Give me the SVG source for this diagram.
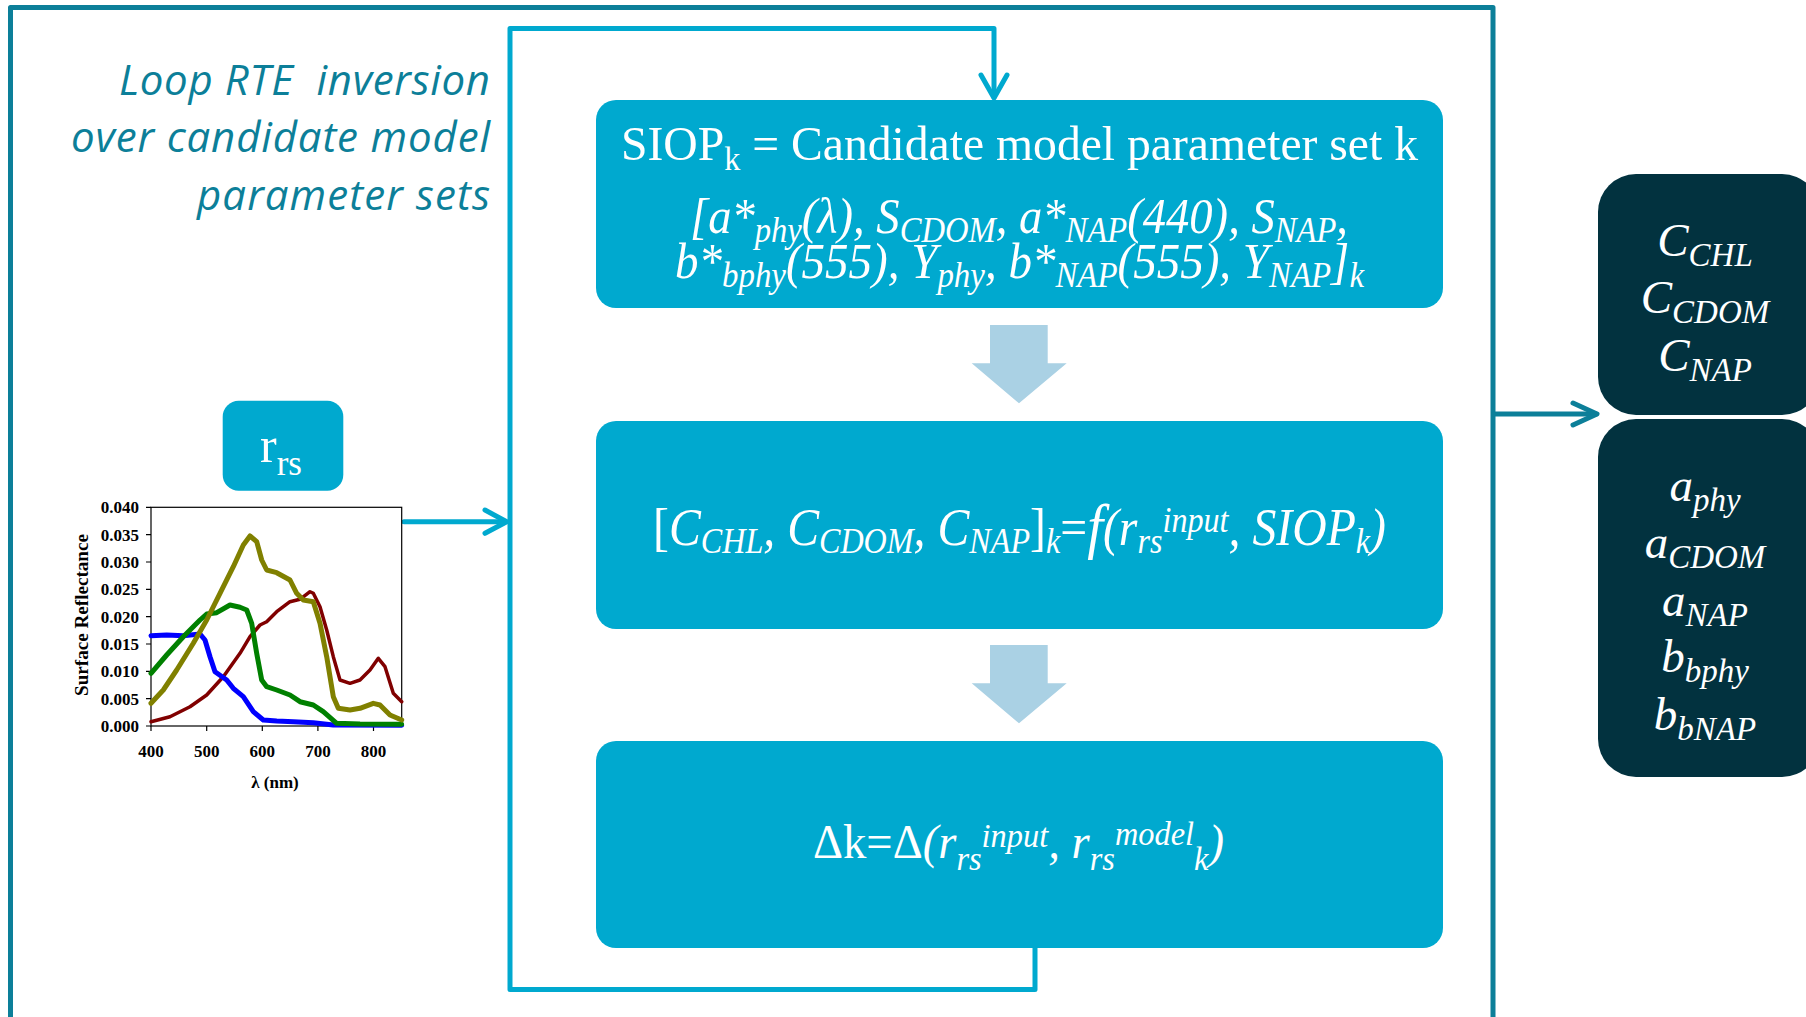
<svg xmlns="http://www.w3.org/2000/svg" width="1806" height="1017" viewBox="0 0 1806 1017">
<style>
.serif{font-family:"Liberation Serif","Times New Roman",serif;}
.it{font-family:"Liberation Serif","Times New Roman",serif;font-style:italic;fill:#fff;}
.up{font-family:"Liberation Serif","Times New Roman",serif;fill:#fff;}
.box{fill:#00a9cf;}
.dark{fill:#02323f;}
.barrow{fill:#aad1e4;}
.loop{fill:none;stroke:#00a9cf;stroke-width:5;stroke-linecap:round;stroke-linejoin:round;}
.frame{fill:none;stroke:#0c7f99;stroke-width:5;stroke-linejoin:round;}
.farrow{fill:none;stroke:#0c7f99;stroke-width:5;stroke-linecap:round;stroke-linejoin:round;}
.tick{font-family:"Liberation Serif","Times New Roman",serif;font-weight:bold;font-size:17px;fill:#000;}
.curve{fill:none;stroke-linecap:round;stroke-linejoin:round;}
.note{font-family:"Open Sans","Noto Sans",sans-serif;font-style:italic;font-size:42px;fill:#0c7f99;}
</style>

<rect id="outer-frame" class="frame" x="10.5" y="7.5" width="1482.5" height="1030"/>

<g id="loop-label">
<text class="note" x="490" y="95" text-anchor="end" textLength="371" xml:space="preserve">Loop RTE  inversion</text>
<text class="note" x="490" y="152" text-anchor="end" textLength="419">over candidate model</text>
<text class="note" x="490" y="210" text-anchor="end" textLength="293">parameter sets</text>
</g>

<g id="connectors">
<path class="loop" d="M1035 948 V989.5 H510 V28.5 H994 V97"/>
<path class="loop" d="M981 75 L994 98 L1007 75"/>
<path class="loop" d="M404 521.7 H505"/>
<path class="loop" d="M485 510 L506.7 521.7 L485 533.3"/>
<path class="farrow" d="M1494 414 H1596"/>
<path class="farrow" d="M1573 403 L1597 414 L1573 425"/>
<polygon class="barrow" points="990,325 1047.7,325 1047.7,363.3 1066.7,363.3 1019,403.3 971.7,363.3 990,363.3"/>
<polygon class="barrow" points="990,645 1047.7,645 1047.7,683.3 1066.7,683.3 1019,723.3 971.7,683.3 990,683.3"/>
</g>

<g id="node-siop">
<rect class="box" x="596" y="100" width="847" height="208" rx="20"/>
<text class="up" x="1019.5" y="160" font-size="49" text-anchor="middle" textLength="797" lengthAdjust="spacingAndGlyphs">SIOP<tspan font-size="33" dy="10">k</tspan><tspan dy="-10"> = Candidate model parameter set k</tspan></text>
<text class="it" x="1019" y="233" font-size="50" text-anchor="middle" textLength="658" lengthAdjust="spacingAndGlyphs">[a*<tspan font-size="35" dy="9">phy</tspan><tspan dy="-9">(λ), S</tspan><tspan font-size="35" dy="9">CDOM</tspan><tspan dy="-9">, a*</tspan><tspan font-size="35" dy="9">NAP</tspan><tspan dy="-9">(440), S</tspan><tspan font-size="35" dy="9">NAP</tspan><tspan dy="-9">,</tspan></text>
<text class="it" x="1019.5" y="278" font-size="50" text-anchor="middle" textLength="689" lengthAdjust="spacingAndGlyphs">b*<tspan font-size="35" dy="9">bphy</tspan><tspan dy="-9">(555), Y</tspan><tspan font-size="35" dy="9">phy</tspan><tspan dy="-9">, b*</tspan><tspan font-size="35" dy="9">NAP</tspan><tspan dy="-9">(555), Y</tspan><tspan font-size="35" dy="9">NAP</tspan><tspan dy="-9">]</tspan><tspan font-size="35" dy="9">k</tspan></text>
</g>

<g id="node-forward">
<rect class="box" x="596" y="421" width="847" height="208" rx="20"/>
<text class="it" x="1019.5" y="545" font-size="52" text-anchor="middle" textLength="733" lengthAdjust="spacingAndGlyphs"><tspan font-style="normal">[</tspan>C<tspan font-size="35" dy="8">CHL</tspan><tspan dy="-8">, C</tspan><tspan font-size="35" dy="8">CDOM</tspan><tspan dy="-8">, C</tspan><tspan font-size="35" dy="8">NAP</tspan><tspan dy="-8" font-style="normal">]</tspan><tspan font-size="35" dy="8">k</tspan><tspan dy="-8" font-style="normal">=</tspan><tspan font-size="62" dy="2">f</tspan><tspan dy="-2">(r</tspan><tspan font-size="35" dy="8">rs</tspan><tspan font-size="35" dy="-21">input</tspan><tspan dy="13">, SIOP</tspan><tspan font-size="35" dy="8">k</tspan><tspan dy="-8">)</tspan></text>
</g>

<g id="node-cost">
<rect class="box" x="596" y="741" width="847" height="207" rx="20"/>
<text class="it" x="1018.5" y="858" font-size="49" text-anchor="middle" textLength="411" lengthAdjust="spacingAndGlyphs"><tspan font-style="normal">Δk=Δ</tspan>(r<tspan font-size="34" dy="12">rs</tspan><tspan font-size="34" dy="-23">input</tspan><tspan dy="11">, r</tspan><tspan font-size="34" dy="12">rs</tspan><tspan font-size="34" dy="-25">model</tspan><tspan font-size="34" dy="25">k</tspan><tspan dy="-12">)</tspan></text>
</g>

<g id="node-concentrations">
<rect class="dark" x="1598" y="174" width="222" height="241" rx="38"/>
<text class="it" x="1705" y="256" font-size="47" text-anchor="middle">C<tspan font-size="33" dy="10">CHL</tspan></text>
<text class="it" x="1705" y="313" font-size="47" text-anchor="middle">C<tspan font-size="33" dy="10">CDOM</tspan></text>
<text class="it" x="1705" y="371" font-size="47" text-anchor="middle">C<tspan font-size="33" dy="10">NAP</tspan></text>
</g>

<g id="node-iops">
<rect class="dark" x="1598" y="419" width="222" height="358" rx="38"/>
<text class="it" x="1705" y="501" font-size="47" text-anchor="middle">a<tspan font-size="33" dy="10">phy</tspan></text>
<text class="it" x="1705" y="558" font-size="47" text-anchor="middle">a<tspan font-size="33" dy="10">CDOM</tspan></text>
<text class="it" x="1705" y="616" font-size="47" text-anchor="middle">a<tspan font-size="33" dy="10">NAP</tspan></text>
<text class="it" x="1705" y="672" font-size="47" text-anchor="middle">b<tspan font-size="33" dy="10">bphy</tspan></text>
<text class="it" x="1705" y="730" font-size="47" text-anchor="middle">b<tspan font-size="33" dy="10">bNAP</tspan></text>
</g>

<g id="node-rrs">
<rect class="box" x="222.7" y="400.7" width="120.6" height="90" rx="16"/>
<text class="up" x="281" y="462" font-size="50" text-anchor="middle">r<tspan font-size="35" dy="13">rs</tspan></text>
</g>

<g id="chart">
<rect x="151" y="507.3" width="250.7" height="218.7" fill="#fff" stroke="#000" stroke-width="1.2"/>
<g stroke="#000" stroke-width="1.2">
<path d="M146 507.3H151M146 534.7H151M146 562H151M146 589.3H151M146 616.7H151M146 644H151M146 671.3H151M146 698.7H151M146 726H151"/>
<path d="M151 726V731M206.7 726V731M262.3 726V731M317.9 726V731M373.5 726V731"/>
</g>
<g class="tick" text-anchor="end">
<text x="139" y="513">0.040</text>
<text x="139" y="540.5">0.035</text>
<text x="139" y="568">0.030</text>
<text x="139" y="595">0.025</text>
<text x="139" y="622.5">0.020</text>
<text x="139" y="650">0.015</text>
<text x="139" y="677">0.010</text>
<text x="139" y="704.5">0.005</text>
<text x="139" y="732">0.000</text>
</g>
<g class="tick" text-anchor="middle">
<text x="151" y="757">400</text>
<text x="206.7" y="757">500</text>
<text x="262.3" y="757">600</text>
<text x="317.9" y="757">700</text>
<text x="373.5" y="757">800</text>
<text x="275" y="788">λ (nm)</text>
<text transform="translate(88 615) rotate(-90)" font-size="18" textLength="162" lengthAdjust="spacingAndGlyphs">Surface Reflectance</text>
</g>
<polyline class="curve" stroke="#800000" stroke-width="3.5" points="151,721.7 170,716.7 190,706.7 206.7,695 223.3,676.7 240,653.3 250,636.7 260,625 266.7,621.7 276.7,611.7 290,601.7 300,599.3 310,591.7 313.3,593.3 320,606.7 326.7,630 333.3,656.7 340,680 350,683.3 360,680 370,670 378.3,658.3 385,666.7 393.3,693.3 401.7,701.7"/>
<polyline class="curve" stroke="#0000ff" stroke-width="5" points="151,635.7 166.7,635 183.3,635.7 200,634 205,640 210,656.7 215,671.7 226.7,680 233.3,688.3 243.3,696.7 253.3,711.7 263.3,720 276.7,721 293.3,721.7 313.3,722.7 333.3,725 401.7,725.3"/>
<polyline class="curve" stroke="#008000" stroke-width="5" points="151,673.3 166.7,655 183.3,636.7 200,620 206.7,614 216.7,612.7 230,605 240,607.3 246.7,610 251.7,623.3 256.7,653.3 261.7,680 266.7,686.7 276.7,690 290,695 300,701.7 313.3,705 323.3,711.7 336.7,723.3 360,724 401.7,724.3"/>
<polyline class="curve" stroke="#808000" stroke-width="5" points="151,703.3 163.3,690 176.7,670 193.3,643.3 206.7,620 220,593.3 233.3,566.7 243.3,545 250,536 256.7,541.7 261.7,560 266.7,570 276.7,572.7 290,580 296.7,593.3 303.3,600 313.3,601.7 320,623.3 326.7,656.7 333.3,696.7 338.3,708.3 350,710 360,708.3 373.3,703.3 380,705 390,715 401.7,720"/>
</g>
</svg>
